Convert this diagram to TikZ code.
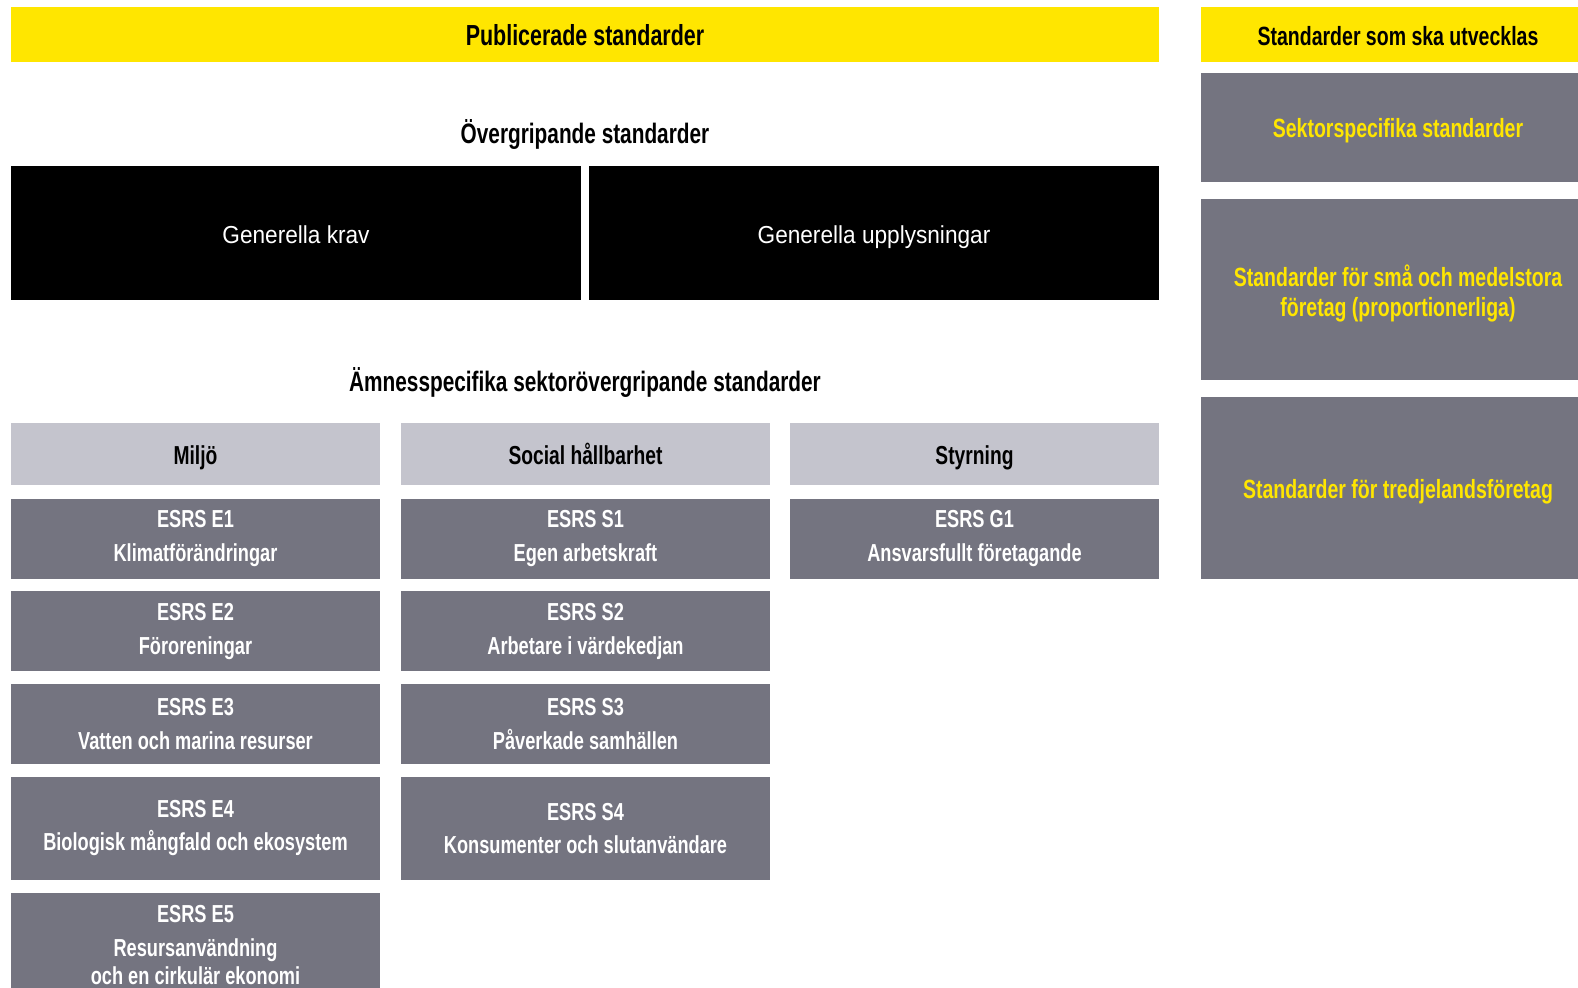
\documentclass[tikz,border=0pt]{standalone}
\usepackage{fontspec}
\setmainfont[FakeStretch=0.74]{Liberation Sans}
\newfontfamily\genfont[FakeStretch=0.92]{Liberation Sans}
\usetikzlibrary{positioning}
\definecolor{eyyellow}{HTML}{FFE600}
\definecolor{eygrey}{HTML}{747480}
\definecolor{eylight}{HTML}{C4C4CD}
\tikzset{
  box/.style={inner sep=0pt, align=center, font=\fontsize{14}{16}\selectfont\bfseries},
  oneline/.style={text height=1.3em, text depth=0.15em},
  head/.style={box, oneline, text height=1.4em, fill=eyyellow, text=black, minimum height=1.1cm},
  cat/.style={box, oneline, fill=eylight, text=black, minimum width=7.38cm, minimum height=1.24cm,
    font=\fontsize{14.8}{16}\selectfont\bfseries},
  esrs/.style={box, fill=eygrey, text=white, minimum width=7.38cm, minimum height=1.6cm},
  future/.style={box, fill=eygrey, text=eyyellow, minimum width=7.88cm, font=\fontsize{15}{17}\selectfont\bfseries},
  general/.style={box, oneline, fill=black, text=white, font=\fontsize{14}{16}\genfont, minimum width=11.4cm, minimum height=2.68cm},
  title/.style={inner sep=0pt, oneline, font=\fontsize{16}{18}\selectfont\bfseries}
}

\begin{document}
\begin{tikzpicture}[x=0.02cm, y=-0.02cm]
			\useasboundingbox (0,0) rectangle (1578,987);
			\clip (0,0) rectangle (1578,987);
			% published standards
			\node[head, minimum width=22.96cm, font=\fontsize{16.5}{18}\selectfont\bfseries] (pub) at (585,34.5) {Publicerade standarder};
			\node[title] (over) at (585,133) {Övergripande standarder};
			\node[general] (krav) at (296,233) {Generella krav};
			\node[general] (upply) at (874,233) {Generella upplysningar};
			\node[title] (amne) at (585,381) {Ämnesspecifika sektorövergripande standarder};
			% environment
			\node[cat] (miljo) at (195.5,454) {Miljö};
			\node[esrs, below=0.26cm of miljo] (e1) {ESRS E1\\[3pt]Klimatförändringar};
			\node[esrs, below=0.24cm of e1] (e2) {ESRS E2\\[3pt]Föroreningar};
			\node[esrs, below=0.24cm of e2] (e3) {ESRS E3\\[3pt]Vatten och marina resurser};
			\node[esrs, below=0.24cm of e3, minimum height=2.06cm] (e4) {ESRS E4\\[3pt]Biologisk mångfald och ekosystem};
			\node[esrs, below=0.26cm of e4, minimum height=2.06cm] (e5) {ESRS E5\\[3pt]Resursanvändning\\och en cirkulär ekonomi};
			% social
			\node[cat] (social) at (585.5,454) {Social hållbarhet};
			\node[esrs, below=0.26cm of social] (s1) {ESRS S1\\[3pt]Egen arbetskraft};
			\node[esrs, below=0.24cm of s1] (s2) {ESRS S2\\[3pt]Arbetare i värdekedjan};
			\node[esrs, below=0.24cm of s2] (s3) {ESRS S3\\[3pt]Påverkade samhällen};
			\node[esrs, below=0.24cm of s3, minimum height=2.06cm] (s4) {ESRS S4\\[3pt]Konsumenter och slutanvändare};
			% governance
			\node[cat] (styr) at (974.5,454) {Styrning};
			\node[esrs, below=0.26cm of styr] (g1) {ESRS G1\\[3pt]Ansvarsfullt företagande};
			% standards to come
			\node[head, minimum width=7.88cm, font=\fontsize{15}{17}\selectfont\bfseries] (utv) at (1398,34.5) {Standarder som ska utvecklas};
			\node[future, oneline, minimum height=2.18cm] (sektor) at (1398,127.5) {Sektorspecifika standarder};
			\node[future, minimum height=3.62cm] (sme) at (1398,289.5) {\rule{0pt}{1.1em}Standarder för små och medelstora\\företag (proportionerliga)};
			\node[future, oneline, minimum height=3.64cm] (tredje) at (1398,488) {Standarder för tredjelandsföretag};
\end{tikzpicture}
\end{document}
